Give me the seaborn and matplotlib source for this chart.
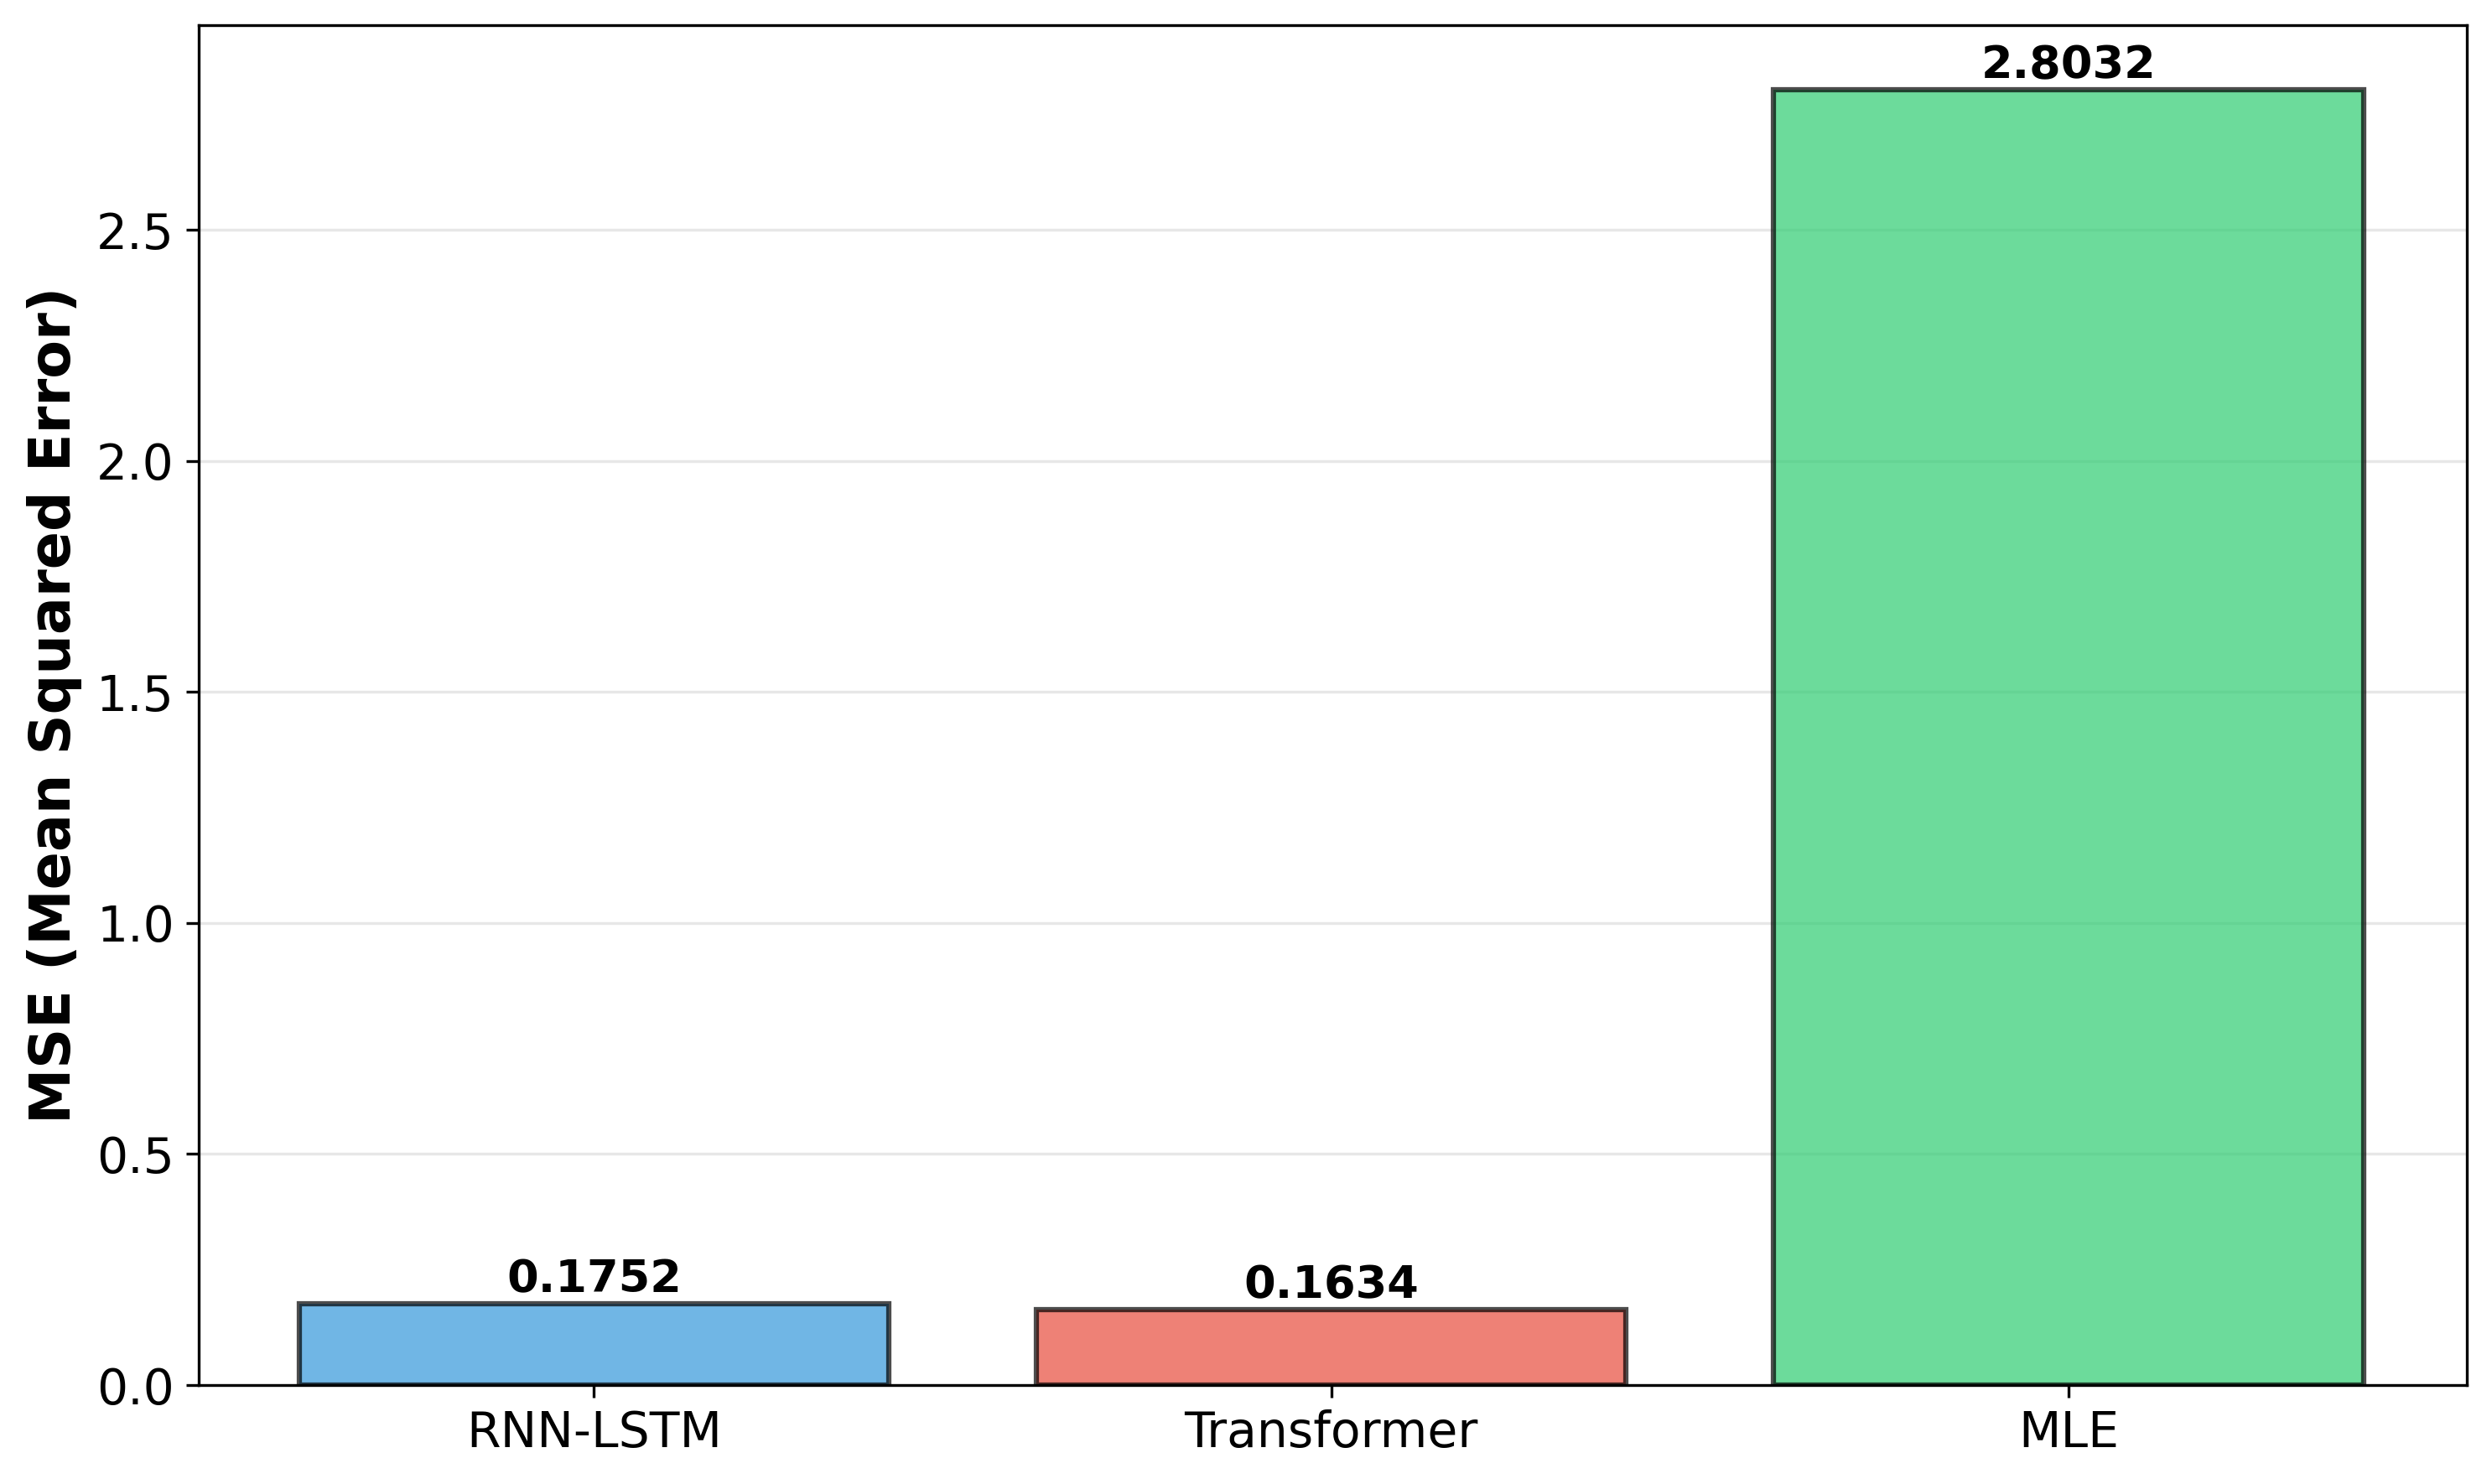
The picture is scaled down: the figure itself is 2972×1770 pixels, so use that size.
import matplotlib
matplotlib.use("Agg")
import matplotlib.pyplot as plt
import seaborn as sns
import pandas as pd

models = ["RNN-LSTM", "Transformer", "MLE"]
mse_values = [0.1752, 0.1634, 2.8032]
bar_colors = ["#3498db", "#e74c3c", "#2ecc71"]
ytick_values = [0.0, 0.5, 1.0, 1.5, 2.0, 2.5]

df = pd.DataFrame({"Model": models, "MSE": mse_values})

fig = plt.figure(figsize=(2972 / 300, 1770 / 300), dpi=300)
ax = fig.add_axes([237 / 2972, 1 - 1652 / 1770, (2942 - 237) / 2972, (1652 - 30) / 1770])

sns.barplot(data=df, x="Model", y="MSE", hue="Model", palette=bar_colors,
            order=models, hue_order=models, legend=False, ax=ax,
            alpha=0.7, edgecolor="black", linewidth=1.5, width=0.8,
            errorbar=None, saturation=1)

for i, v in enumerate(mse_values):
    ax.text(i, v + 0.005, f"{v:.4f}", ha="center", va="bottom",
            fontsize=13, fontweight="bold")

ax.set_xlim(-0.536, 2.54)
ax.set_ylim(0, max(mse_values) * 1.05)
ax.set_yticks(ytick_values)
ax.set_xlabel("")
ax.set_ylabel("MSE (Mean Squared Error)", fontsize=16, fontweight="bold")
ax.tick_params(axis="both", labelsize=14)
ax.grid(axis="y", alpha=0.3)
ax.set_axisbelow(True)
for s in ax.spines.values():
    s.set_visible(True)
    s.set_color("black")
    s.set_linewidth(0.8)

fig.savefig("out.png", dpi=300)
